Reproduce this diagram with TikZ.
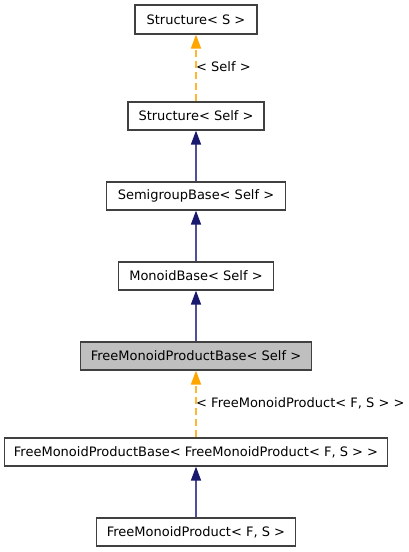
\documentclass[tikz,border=0pt]{standalone}
\usepackage{fontspec}
\setmainfont{DejaVu Sans}
\usetikzlibrary{arrows.meta}
\definecolor{navy}{HTML}{191970}
\definecolor{navyline}{HTML}{4F4F9A}
\definecolor{orng}{HTML}{FFA500}
\definecolor{orngline}{HTML}{FFB733}
\definecolor{boxline}{HTML}{404040}
\definecolor{hl}{HTML}{BFBFBF}
\tikzset{
  cls/.style={draw=boxline, line width=1.2pt, fill=white, minimum height=28pt, inner sep=0pt, font=\fontsize{13}{15}\selectfont},
  inh/.style={draw=navyline, line width=1.5pt, -{Triangle[length=14pt,width=10pt,fill=navy,color=navy]}},
  tmpl/.style={draw=orngline, line width=1.5pt, dash pattern=on 7pt off 4pt, -{Triangle[length=14pt,width=10pt,fill=orng,color=orng]}},
  lbl/.style={font=\fontsize{13}{15}\selectfont, inner sep=0pt, anchor=west}
}
\begin{document}
\begin{tikzpicture}[x=1pt,y=-1pt]
\useasboundingbox (0,0) rectangle (408,552);
\node[cls, minimum width=122pt, minimum height=29pt] (s) at (196,19.5) {Structure< S >};
\node[cls, minimum width=136pt] (ss) at (196,116) {Structure< Self >};
\node[cls, minimum width=179pt] (sg) at (196,196) {SemigroupBase< Self >};
\node[cls, minimum width=155pt] (mb) at (196,276) {MonoidBase< Self >};
\node[cls, fill=hl, minimum width=231pt] (fb) at (196,356) {FreeMonoidProductBase< Self >};
\node[cls, minimum width=383pt] (ff) at (196,452) {FreeMonoidProductBase< FreeMonoidProduct< F, S > >};
\node[cls, minimum width=199pt] (fp) at (196,532) {FreeMonoidProduct< F, S >};
\draw[tmpl] (ss.north) -- (s.south);
\draw[inh] (sg.north) -- (ss.south);
\draw[inh] (mb.north) -- (sg.south);
\draw[inh] (fb.north) -- (mb.south);
\draw[tmpl] (ff.north) -- (fb.south);
\draw[inh] (fp.north) -- (ff.south);
\node[lbl] (l1) at (196,67) {< Self >};
\node[lbl] (l2) at (196,403) {< FreeMonoidProduct< F, S > >};
\end{tikzpicture}
\end{document}
